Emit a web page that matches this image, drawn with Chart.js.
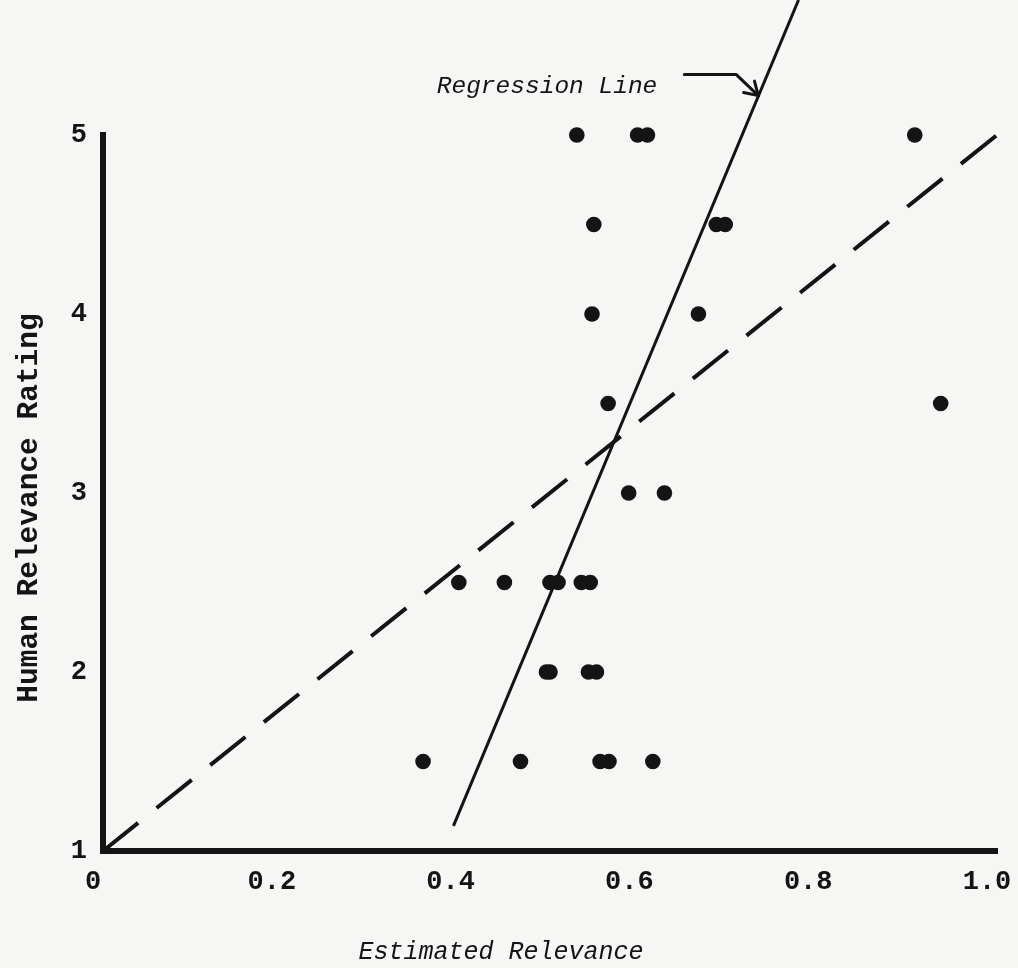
<!DOCTYPE html>
<html>
<head>
<meta charset="utf-8">
<title>Estimated vs Human Relevance</title>
<script src="https://cdn.jsdelivr.net/npm/chart.js@4/dist/chart.umd.min.js"></script>
<style>
  html, body { margin: 0; padding: 0; background: #f6f6f4; }
  canvas { display: block; }
</style>
</head>
<body>
<canvas id="relevance-chart" width="1018" height="968"></canvas>
<script>
// scatter points: estimated relevance (x) against human rating (y)
const estimatedRelevance = [
    0.530, 0.598, 0.609, 0.908,
    0.549, 0.686, 0.696,
    0.547, 0.666,
    0.565, 0.937,
    0.588, 0.628,
    0.398, 0.449, 0.500, 0.509, 0.535, 0.545,
    0.496, 0.500, 0.543, 0.552,
    0.358, 0.467, 0.556, 0.566, 0.615
];
const humanRating = [
    5, 5, 5, 5,
    4.5, 4.5, 4.5,
    4, 4,
    3.5, 3.5,
    3, 3,
    2.5, 2.5, 2.5, 2.5, 2.5, 2.5,
    2, 2, 2, 2,
    1.5, 1.5, 1.5, 1.5, 1.5
];

// fitted regression line and the dashed reference diagonal
const regressionX = [0.392, 0.778];
const regressionY = [1.14, 5.754];
const diagonalX = [0, 1];
const diagonalY = [1, 5];

const xTickLabels = ['0', '0.2', '0.4', '0.6', '0.8', '1.0'];
const yTickLabels = ['1', '2', '3', '4', '5'];

// where the "Regression Line" arrow touches the line
const arrowTip = { x: 0.733, y: 5.22 };

const ink = '#141414';
const toPoints = (xs, ys) => xs.map((x, i) => ({ x: x, y: ys[i] }));

// axis titles and the arrow label
const annotations = {
    id: 'annotations',
    afterDraw(chart) {
        const ctx = chart.ctx;
        const xs = chart.scales.x, ys = chart.scales.y;
        ctx.save();
        ctx.fillStyle = ink;
        ctx.strokeStyle = ink;

        // y title
        ctx.save();
        ctx.translate(30, 508);
        ctx.rotate(-Math.PI / 2);
        ctx.font = 'bold 29.5px "Liberation Mono"';
        ctx.textAlign = 'center';
        ctx.textBaseline = 'middle';
        ctx.fillText('Human Relevance Rating', 0, 0);
        ctx.restore();

        // x title
        ctx.font = 'italic 25px "Liberation Mono"';
        ctx.textAlign = 'center';
        ctx.textBaseline = 'alphabetic';
        ctx.fillText('Estimated Relevance', 501, 959);

        // arrow pointing at the regression line
        const tx = xs.getPixelForValue(arrowTip.x);
        const ty = ys.getPixelForValue(arrowTip.y);
        ctx.font = 'italic 24.5px "Liberation Mono"';
        ctx.textAlign = 'right';
        ctx.fillText('Regression Line', tx - 101, ty - 3);

        ctx.lineWidth = 3;
        ctx.lineCap = 'round';
        ctx.lineJoin = 'round';
        ctx.beginPath();
        ctx.moveTo(tx - 74, ty - 21);
        ctx.lineTo(tx - 22, ty - 21);
        ctx.lineTo(tx, ty);
        ctx.stroke();
        const ang = Math.atan2(21, 22);
        ctx.beginPath();
        for (const d of [-0.55, 0.55]) {
            ctx.moveTo(tx, ty);
            ctx.lineTo(tx - 15 * Math.cos(ang + d), ty - 15 * Math.sin(ang + d));
        }
        ctx.stroke();
        ctx.restore();
    }
};

const tickFont = { family: 'Liberation Mono', size: 27, weight: 'bold' };

new Chart(document.getElementById('relevance-chart').getContext('2d'), {
    type: 'scatter',
    data: {
        datasets: [{
            label: 'Documents',
            data: toPoints(estimatedRelevance, humanRating),
            pointRadius: 7.8,
            pointBackgroundColor: ink,
            pointBorderWidth: 0,
            clip: false,
            order: 1,
        }, {
            type: 'line',
            label: 'Regression Line',
            data: toPoints(regressionX, regressionY),
            borderColor: ink,
            borderWidth: 3,
            pointRadius: 0,
            clip: false,
            order: 2,
        }, {
            type: 'line',
            label: 'Diagonal',
            data: toPoints(diagonalX, diagonalY),
            borderColor: ink,
            borderWidth: 4,
            borderDash: [45, 23.7],
            borderCapStyle: 'butt',
            pointRadius: 0,
            clip: false,
            order: 3,
        }],
    },
    options: {
        responsive: false,
        animation: false,
        layout: { padding: { top: 135, right: 21, left: 0, bottom: 0 } },
        plugins: {
            legend: { display: false },
            tooltip: { enabled: false },
        },
        scales: {
            x: {
                type: 'linear',
                min: 0,
                max: 1,
                grid: { color: 'rgba(0,0,0,0)', drawTicks: false },
                border: { display: true, color: ink, width: 6 },
                ticks: {
                    stepSize: 0.2,
                    callback: (v, i) => xTickLabels[i],
                    font: tickFont,
                    color: ink,
                    padding: 15,
                    labelOffset: -10,
                    maxRotation: 0,
                },
                afterFit: (scale) => {
                    scale.height = 117;
                    scale.paddingLeft = 0;
                    scale.paddingRight = 0;
                },
            },
            y: {
                type: 'linear',
                min: 1,
                max: 5,
                grid: { color: 'rgba(0,0,0,0)', drawTicks: false },
                border: { display: true, color: ink, width: 6 },
                ticks: {
                    stepSize: 1,
                    callback: (v, i) => yTickLabels[i],
                    font: tickFont,
                    color: ink,
                    padding: 16,
                },
                afterFit: (scale) => {
                    scale.width = 103;
                    scale.paddingTop = 0;
                    scale.paddingBottom = 0;
                },
            },
        },
    },
    plugins: [annotations],
});
</script>
</body>
</html>
